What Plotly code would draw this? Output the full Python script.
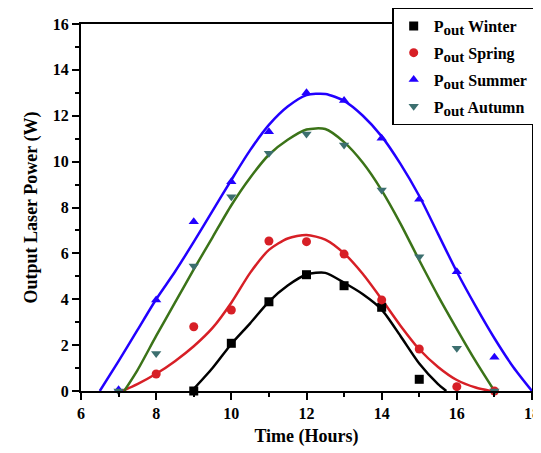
import plotly.graph_objects as go

# measured points (hours, W)
winter_t = [9, 10, 11, 12, 13, 14, 15]
winter_p = [0.0, 2.08, 3.89, 5.07, 4.59, 3.65, 0.51]

spring_t = [8, 9, 10, 11, 12, 13, 14, 15, 16, 17]
spring_p = [0.74, 2.8, 3.53, 6.54, 6.51, 5.97, 3.97, 1.83, 0.19, 0.0]

summer_t = [7, 8, 9, 10, 11, 12, 13, 14, 15, 16, 17]
summer_p = [0.05, 3.97, 7.38, 9.12, 11.3, 13.0, 12.66, 11.02, 8.36, 5.2, 1.47]

autumn_t = [7, 8, 9, 10, 11, 12, 13, 14, 15, 16, 17]
autumn_p = [0.0, 1.64, 5.45, 8.47, 10.36, 11.2, 10.72, 8.76, 5.85, 1.86, 0.0]

# fitted curves
winter_fit_t = [8.95, 9.5, 10, 10.5, 11, 11.5, 12, 12.5, 13, 13.5, 14, 14.5, 15, 15.5, 15.72]
winter_fit_p = [0.0, 1.0, 2.05, 2.95, 3.9, 4.6, 5.08, 5.15, 4.72, 4.22, 3.55, 2.4, 1.2, 0.3, 0.0]

spring_fit_t = [7.1, 7.5, 8, 8.5, 9, 9.5, 10, 10.5, 11, 11.5, 12, 12.5, 13, 13.5, 14, 14.5, 15, 15.5, 16, 16.5, 16.9]
spring_fit_p = [0.0, 0.3, 0.75, 1.3, 1.95, 2.75, 3.85, 5.15, 6.15, 6.65, 6.8, 6.6, 6.0, 5.1, 4.0, 2.85, 1.82, 1.05, 0.48, 0.15, 0.0]

summer_fit_t = [6.5, 7, 7.5, 8, 8.5, 9, 9.5, 10, 10.5, 11, 11.5, 12, 12.5, 13, 13.5, 14, 14.5, 15, 15.5, 16, 16.5, 17, 17.5, 18]
summer_fit_p = [0.0, 1.3, 2.65, 4.0, 5.2, 6.5, 7.85, 9.2, 10.5, 11.6, 12.4, 12.9, 12.95, 12.65, 12.0, 11.1, 9.9, 8.5, 6.85, 5.2, 3.7, 2.3, 1.05, 0.0]

autumn_fit_t = [7.15, 7.5, 8, 8.5, 9, 9.5, 10, 10.5, 11, 11.5, 12, 12.5, 13, 13.5, 14, 14.5, 15, 15.5, 16, 16.5, 17]
autumn_fit_p = [0.0, 0.9, 2.4, 3.85, 5.3, 6.7, 8.1, 9.3, 10.3, 10.95, 11.4, 11.42, 10.85, 9.95, 8.75, 7.3, 5.7, 4.15, 2.7, 1.3, 0.0]

FONT = 'Liberation Serif'

series = [
    ('Winter', winter_t, winter_p, winter_fit_t, winter_fit_p, 'square', 'black', 'black'),
    ('Spring', spring_t, spring_p, spring_fit_t, spring_fit_p, 'circle', '#d71f26', '#d71f26'),
    ('Summer', summer_t, summer_p, summer_fit_t, summer_fit_p, 'triangle-up', '#2200ff', '#2200ff'),
    ('Autumn', autumn_t, autumn_p, autumn_fit_t, autumn_fit_p, 'triangle-down', '#3c6f6f', '#3b7318'),
]

fig = go.Figure()

for name, t, p, ft, fp, symbol, mcolor, lcolor in series:
    fig.add_trace(go.Scatter(
        x=ft, y=fp, mode='lines', line={'color': lcolor, 'width': 2.5, 'shape': 'spline', 'smoothing': 0.7},
        showlegend=False, hoverinfo='skip', cliponaxis=False,
    ))

for name, t, p, ft, fp, symbol, mcolor, lcolor in series:
    fig.add_trace(go.Scatter(
        x=t, y=p, mode='markers', legendgroup=name,
        name='P<sub><span style="font-size:15px">out</span></sub> ' + name,
        marker={'symbol': symbol, 'size': 9, 'color': mcolor},
        cliponaxis=False,
    ))

axis_common = dict(
    showline=True, linecolor='black', linewidth=2, mirror=True,
    ticks='outside', ticklen=7, tickwidth=2, tickcolor='black',
    minor={'ticks': 'outside', 'ticklen': 4, 'tickwidth': 2, 'tickcolor': 'black', 'dtick': 1},
    showgrid=False, zeroline=False, automargin=False, ticklabeloverflow='allow',
    tickfont={'family': FONT, 'size': 16, 'color': 'black', 'weight': 'bold'},
)

# the page body adds an 8px offset, so the figure is 8px smaller
fig.update_layout(
    width=533, height=445,
    margin={'l': 73, 'r': 9, 't': 16, 'b': 62, 'autoexpand': False},
    plot_bgcolor='white', paper_bgcolor='white',
    font={'family': FONT, 'color': 'black'},
    xaxis=dict(axis_common, range=[6, 18], dtick=2, tick0=6,
               title={'text': 'Time (Hours)', 'font': {'family': FONT, 'size': 18, 'weight': 'bold'}, 'standoff': 8}),
    yaxis=dict(axis_common, range=[0, 16], dtick=2, tick0=0,
               title={'text': 'Output Laser Power (W)', 'font': {'family': FONT, 'size': 18, 'weight': 'bold'}, 'standoff': 10}),
    legend={
        'x': 0.69, 'y': 1.045, 'xanchor': 'left', 'yanchor': 'top',
        'bgcolor': 'white', 'bordercolor': 'black', 'borderwidth': 1.5,
        'font': {'family': FONT, 'size': 16, 'weight': 'bold'},
        'tracegroupgap': 3, 'itemwidth': 30,
    },
)

fig.write_html("out.html")
